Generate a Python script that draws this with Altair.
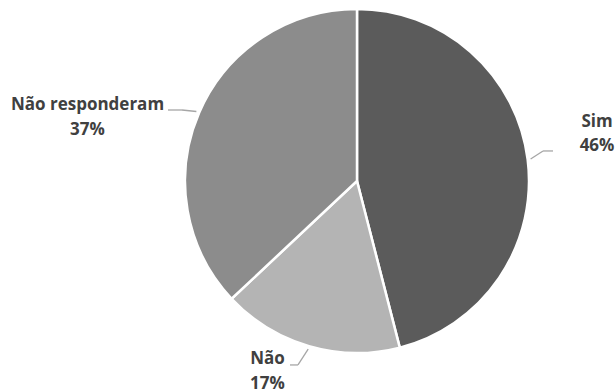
import altair as alt
import pandas as pd

# ---- data ----
categories = ["Sim", "Não", "Não responderam"]
values = [46, 17, 37]
colors = ["#5b5b5b", "#b4b4b4", "#8c8c8c"]

df = pd.DataFrame({
    "cat": categories,
    "value": values,
    "order": list(range(len(categories))),
})

# ---- layout / style constants ----
W, H = 616, 391
CX, CY, R = 357, 181, 172
R_LEAD = 175

# leader-line elbow / end and label offsets (pixels, relative to leader start)
elbow = {"Sim": (12.4, -8.1), "Não": (-10.2, 15.9), "Não responderam": (-14.4, -1.5)}
end = {"Sim": (22.4, -8.1), "Não": (-18.2, 15.9), "Não responderam": (-28.4, -1.5)}
lab = {"Sim": (66.4, -37.5), "Não": (-40.7, 10.0), "Não responderam": (-108.9, -6.0)}


def pick(d, idx):
    expr = str(d[categories[-1]][idx])
    for c in reversed(categories[:-1]):
        expr = f"datum.cat === '{c}' ? {d[c][idx]} : ({expr})"
    return expr


base = (
    alt.Chart(df)
    .transform_joinaggregate(total="sum(value)")
    .transform_window(cum="sum(value)", sort=[alt.SortField("order")], frame=[None, 0])
    .transform_calculate(
        mid="(datum.cum - datum.value / 2) / datum.total * 2 * PI",
        label="datum.cat + '\\n' + datum.value + '%'",
    )
    .transform_calculate(
        sx=f"{CX} + {R_LEAD} * sin(datum.mid)",
        sy=f"{CY} - {R_LEAD} * cos(datum.mid)",
    )
    .transform_calculate(
        ex=f"datum.sx + ({pick(elbow, 0)})",
        ey=f"datum.sy + ({pick(elbow, 1)})",
        hx=f"datum.sx + ({pick(end, 0)})",
        lx=f"datum.sx + ({pick(lab, 0)})",
        ly=f"datum.sy + ({pick(lab, 1)})",
    )
)

pie = alt.Chart(df).mark_arc(outerRadius=R, stroke="white", strokeWidth=2.5).encode(
    theta=alt.Theta("value:Q", stack=True),
    order=alt.Order("order:Q"),
    color=alt.Color("cat:N", scale=alt.Scale(domain=categories, range=colors), legend=None),
    x=alt.value(CX),
    y=alt.value(CY),
)

lead1 = base.mark_rule(color="#a6a6a6", strokeWidth=1.3).encode(
    x=alt.X("sx:Q", scale=None, axis=None),
    y=alt.Y("sy:Q", scale=None, axis=None),
    x2="ex:Q",
    y2="ey:Q",
)
lead2 = base.mark_rule(color="#a6a6a6", strokeWidth=1.3).encode(
    x=alt.X("ex:Q", scale=None, axis=None),
    y=alt.Y("ey:Q", scale=None, axis=None),
    x2="hx:Q",
    y2="ey:Q",
)

text = base.mark_text(
    font="Open Sans",
    fontSize=17,
    fontWeight="bold",
    color="#404040",
    align="center",
    baseline="middle",
    lineBreak="\n",
    lineHeight=24.5,
).encode(
    x=alt.X("lx:Q", scale=None, axis=None),
    y=alt.Y("ly:Q", scale=None, axis=None),
    text="label:N",
)

chart = (
    alt.layer(pie, lead1, lead2, text)
    .resolve_scale(x="independent", y="independent")
    .properties(width=W, height=H, padding=0, autosize=alt.AutoSizeParams(type="none"), background="white")
    .configure_view(stroke=None)
)

chart.save("out.html", embed_options={"renderer": "svg", "actions": False})
